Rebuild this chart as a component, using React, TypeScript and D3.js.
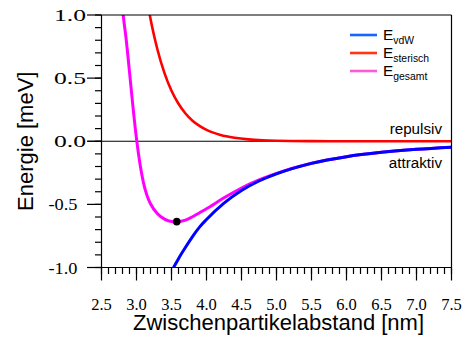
import React from "react";
import * as d3 from "d3";

// ---- data ----
const xTickValues = [2.5, 3.0, 3.5, 4.0, 4.5, 5.0, 5.5, 6.0, 6.5, 7.0, 7.5];
const xTickLabels = ["2.5", "3.0", "3.5", "4.0", "4.5", "5.0", "5.5", "6.0", "6.5", "7.0", "7.5"];
const yTickValues = [1.0, 0.5, 0.0, -0.5, -1.0];
const yTickLabels = ["1.0", "0.5", "0.0", "-0.5", "-1.0"];

const vdwR = [3.5, 3.53, 3.6, 3.7, 3.8, 3.9, 4.0, 4.25, 4.5, 4.75, 5.0, 5.5, 6.0, 6.5, 7.0, 7.5];
const vdwE = [-1.03, -1.0, -0.93, -0.84, -0.755, -0.68, -0.62, -0.49, -0.39, -0.315, -0.258, -0.175, -0.122, -0.088, -0.064, -0.047];

const stericR = [3.15, 3.19, 3.25, 3.3, 3.4, 3.5, 3.6, 3.7, 3.8, 3.9, 4.0, 4.2, 4.4, 4.6, 4.8, 5.0, 5.5, 6.0, 6.5, 7.0, 7.5];
const stericE = [1.14, 1.0, 0.84, 0.725, 0.54, 0.4, 0.297, 0.22, 0.163, 0.122, 0.09, 0.05, 0.028, 0.015, 0.008, 0.0045, 0.0012, 0.0003, 0.0001, 0.0, 0.0];

const totalR = [2.79, 2.81, 2.85, 2.9, 2.95, 3.0, 3.05, 3.1, 3.15, 3.2, 3.3, 3.4, 3.5, 3.575, 3.7, 3.8, 3.9, 4.0, 4.25, 4.5, 4.75, 5.0, 5.5, 6.0, 6.5, 7.0, 7.5];
const totalE = [1.12, 1.0, 0.82, 0.55, 0.27, 0.02, -0.18, -0.33, -0.43, -0.495, -0.575, -0.617, -0.635, -0.637, -0.625, -0.598, -0.566, -0.535, -0.448, -0.37, -0.306, -0.254, -0.174, -0.122, -0.088, -0.064, -0.047];

const minimumR = [3.575];
const minimumE = [-0.637];

const legendMain = ["E", "E", "E"];
const legendSub = ["vdW", "sterisch", "gesamt"];
const legendColors = ["#1466ff", "#ff3514", "#ff5ad8"];
const curveColors = ["#0000ff", "#ff0000", "#ff00ff"];

const xTitle = "Zwischenpartikelabstand [nm]";
const yTitle = "Energie [meV]";
const repulsivLabel = "repulsiv";
const attraktivLabel = "attraktiv";

const W = 464;
const H = 345;
const left = 101.5;
const right = 451.5;
const top = 15;
const bottom = 267.5;

const SERIF = "Liberation Serif";
const SANS = "Liberation Sans";

export default function App() {
  const x = d3.scaleLinear().domain([2.5, 7.5]).range([left, right]);
  const y = d3.scaleLinear().domain([-1, 1]).range([bottom, top]);

  const line = d3
    .line<[number, number]>()
    .x((d) => x(d[0]))
    .y((d) => y(d[1]))
    .curve(d3.curveMonotoneX);

  const zip = (a: number[], b: number[]) => a.map((v, i) => [v, b[i]] as [number, number]);

  const xMinor = d3.range(25, 76, 1).map((v) => v / 10);
  const yMinor = d3.range(-10, 11, 1).map((v) => v / 10);

  return (
    <svg
      width={W}
      height={H}
      style={{ position: "absolute", left: 0, top: 0, background: "#fff" }}
    >
      <defs>
        <clipPath id="plotClip">
          <rect x={left} y={top} width={right - left} height={bottom - top} />
        </clipPath>
      </defs>

      {/* zero line */}
      <line x1={left - 14} x2={right} y1={y(0)} y2={y(0)} stroke="#000" strokeWidth={1.2} />

      {/* curves */}
      <g clipPath="url(#plotClip)" fill="none" strokeWidth={3} strokeLinejoin="round">
        <path d={line(zip(totalR, totalE)) || ""} stroke={curveColors[2]} />
        <path d={line(zip(vdwR, vdwE)) || ""} stroke={curveColors[0]} />
        <path d={line(zip(stericR, stericE)) || ""} stroke={curveColors[1]} strokeWidth={2.6} />
      </g>

      {minimumR.map((r, i) => (
        <circle key={i} cx={x(r)} cy={y(minimumE[i])} r={3.8} fill="#000" />
      ))}

      {/* frame */}
      <g stroke="#000" strokeWidth={1.2} fill="none">
        <line x1={left} x2={left} y1={top} y2={bottom} />
        <line x1={right} x2={right} y1={top} y2={bottom} />
        <line x1={left} x2={right} y1={top} y2={top} />
        <line x1={left} x2={right} y1={bottom} y2={bottom} />
      </g>

      {/* y ticks */}
      <g stroke="#000" strokeWidth={1.2}>
        {yMinor.map((v, i) => (
          <line key={"ym" + i} x1={left - 6.5} x2={left} y1={y(v)} y2={y(v)} />
        ))}
        {yTickValues.map((v, i) => (
          <line key={"yM" + i} x1={left - 14.5} x2={left} y1={y(v)} y2={y(v)} />
        ))}
      </g>
      {yTickValues.map((v, i) => {
        const neg = v < 0;
        return (
          <text
            key={"yl" + i}
            x={neg ? 77.5 : 86}
            y={y(v) + 6}
            textAnchor="end"
            fontFamily={SERIF}
            fontSize={16.5}
            fill="#000"
            textLength={neg ? 29 : 32}
            lengthAdjust="spacingAndGlyphs"
          >
            {yTickLabels[i]}
          </text>
        );
      })}

      {/* x ticks */}
      <g stroke="#000" strokeWidth={1.2}>
        {xMinor.map((v, i) => (
          <line key={"xm" + i} x1={x(v)} x2={x(v)} y1={bottom} y2={bottom + 6.5} />
        ))}
        {xTickValues.map((v, i) => (
          <line key={"xM" + i} x1={x(v)} x2={x(v)} y1={bottom} y2={bottom + 13} />
        ))}
      </g>
      {xTickValues.map((v, i) => (
        <text
          key={"xl" + i}
          x={x(v)}
          y={310}
          textAnchor="middle"
          fontFamily={SERIF}
          fontSize={16.5}
          fill="#000"
        >
          {xTickLabels[i]}
        </text>
      ))}

      {/* axis titles */}
      <text
        x={(left + right) / 2 + 2}
        y={329.5}
        textAnchor="middle"
        fontFamily={SANS}
        fontSize={22}
        fill="#000"
      >
        {xTitle}
      </text>
      <text
        transform={`translate(32.5, ${y(0)}) rotate(-90)`}
        textAnchor="middle"
        fontFamily={SANS}
        fontSize={22}
        fill="#000"
      >
        {yTitle}
      </text>

      {/* annotations */}
      <text x={442} y={134.3} textAnchor="end" fontFamily={SANS} fontSize={15.2} fill="#000">
        {repulsivLabel}
      </text>
      <text x={442} y={168.3} textAnchor="end" fontFamily={SANS} fontSize={15.2} fill="#000">
        {attraktivLabel}
      </text>

      {/* legend */}
      {legendMain.map((m, i) => {
        const ly = 35 + i * 18;
        return (
          <g key={"lg" + i}>
            <line x1={350} x2={377} y1={ly} y2={ly} stroke={legendColors[i]} strokeWidth={2.6} />
            <text x={383} y={ly + 5.2} fontFamily={SANS} fontSize={15.4} fill="#000">
              {m}
              <tspan fontSize={10.4} dy={4}>
                {legendSub[i]}
              </tspan>
            </text>
          </g>
        );
      })}
    </svg>
  );
}
